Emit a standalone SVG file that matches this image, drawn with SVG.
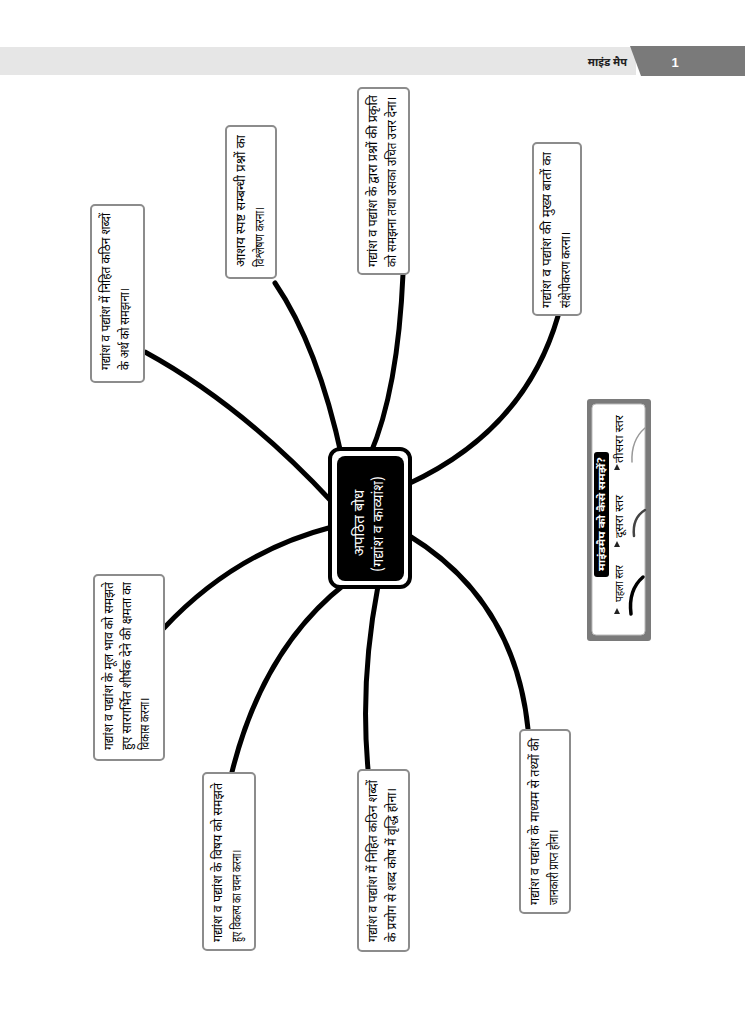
<svg xmlns="http://www.w3.org/2000/svg" width="745" height="1024" viewBox="0 0 745 1024">
<style>
.box{fill:#fff;stroke:#8c8c8c;stroke-width:2}
.t{font-family:"Noto Sans Devanagari","Noto Sans","Lohit Devanagari",sans-serif;font-size:13px;fill:#000}
.c{fill:none;stroke:#000;stroke-width:5;stroke-linecap:round}
.w{font-family:"Noto Sans Devanagari","Noto Sans",sans-serif;fill:#fff}
</style>
<rect width="745" height="1024" fill="#fff"/>
<g id="header">
<rect x="0" y="47" width="636" height="28" fill="#e6e6e6"/>
<polygon points="630,46 745,46 745,76 641,76" fill="#7a7a7a"/>
<text x="627" y="66" text-anchor="end" font-family="Noto Sans Devanagari,Noto Sans,sans-serif" font-size="11" font-weight="bold" fill="#222">माइंड मैप</text>
<text x="675" y="67" text-anchor="middle" font-family="Liberation Sans,sans-serif" font-size="13" font-weight="bold" fill="#fff">1</text>
</g>
<g id="connectors">
<path class="c" d="M145,352 Q242,405 332,502"/>
<path class="c" d="M275,283 Q318,346 342,458"/>
<path class="c" d="M403,274 Q398,390 370,455"/>
<path class="c" d="M558,316 Q525,430 408,484"/>
<path class="c" d="M164,628 Q235,552 332,527"/>
<path class="c" d="M232,772 Q263,648 345,584"/>
<path class="c" d="M368,769 Q360,680 378,586"/>
<path class="c" d="M528,729 Q515,600 408,535"/>
</g>
<g id="center">
<rect x="330" y="449" width="80" height="138" rx="10" fill="#fff" stroke="#000" stroke-width="4"/>
<rect x="337" y="456" width="67" height="125" rx="8" fill="#000"/>
<text class="w" font-size="15" text-anchor="middle" transform="translate(364,523) rotate(-90)">अपठित बोध</text>
<text class="w" font-size="14" text-anchor="middle" transform="translate(383,524) rotate(-90)">(गद्यांश व काव्यांश)</text>
</g>
<g id="n1">
<rect class="box" x="91" y="205" width="53" height="177" rx="4"/>
<text class="t" transform="translate(110,370) rotate(-90)" textLength="157" lengthAdjust="spacingAndGlyphs">गद्यांश व पद्यांश में निहित कठिन शब्दों</text>
<text class="t" transform="translate(129,370) rotate(-90)" textLength="82" lengthAdjust="spacingAndGlyphs">के अर्थ को समझना।</text>
</g>
<g id="n2">
<rect class="box" x="226" y="126" width="50" height="152" rx="4"/>
<text class="t" transform="translate(245,267) rotate(-90)" textLength="132" lengthAdjust="spacingAndGlyphs">आशय स्पष्ट सम्बन्धी प्रश्नों का</text>
<text class="t" transform="translate(264,267) rotate(-90)" textLength="60" lengthAdjust="spacingAndGlyphs">विश्लेषण करना।</text>
</g>
<g id="n3">
<rect class="box" x="358" y="88" width="51" height="186" rx="4"/>
<text class="t" transform="translate(377,267) rotate(-90)" textLength="172" lengthAdjust="spacingAndGlyphs">गद्यांश व पद्यांश के द्वारा प्रश्नों की प्रकृति</text>
<text class="t" transform="translate(396,267) rotate(-90)" textLength="170" lengthAdjust="spacingAndGlyphs">को समझना तथा उसका उचित उत्तर देना।</text>
</g>
<g id="n4">
<rect class="box" x="533" y="143" width="48" height="172" rx="4"/>
<text class="t" transform="translate(551,308) rotate(-90)" textLength="156" lengthAdjust="spacingAndGlyphs">गद्यांश व पद्यांश की मुख्य बातों का</text>
<text class="t" transform="translate(570,308) rotate(-90)" textLength="76" lengthAdjust="spacingAndGlyphs">संक्षेपीकरण करना।</text>
</g>
<g id="n5">
<rect class="box" x="94" y="575" width="70" height="185" rx="4"/>
<text class="t" transform="translate(113,750) rotate(-90)" textLength="168" lengthAdjust="spacingAndGlyphs">गद्यांश व पद्यांश के मूल भाव को समझते</text>
<text class="t" transform="translate(131,750) rotate(-90)" textLength="168" lengthAdjust="spacingAndGlyphs">हुए सारगर्भित शीर्षक देने की क्षमता का</text>
<text class="t" transform="translate(149,750) rotate(-90)" textLength="52" lengthAdjust="spacingAndGlyphs">विकास करना।</text>
</g>
<g id="n6">
<rect class="box" x="203" y="773" width="52" height="177" rx="4"/>
<text class="t" transform="translate(222,942) rotate(-90)" textLength="159" lengthAdjust="spacingAndGlyphs">गद्यांश व पद्यांश के विषय को समझते</text>
<text class="t" transform="translate(241,942) rotate(-90)" textLength="92" lengthAdjust="spacingAndGlyphs">हुए विकल्प का चयन करना।</text>
</g>
<g id="n7">
<rect class="box" x="358" y="770" width="51" height="181" rx="4"/>
<text class="t" transform="translate(377,942) rotate(-90)" textLength="162" lengthAdjust="spacingAndGlyphs">गद्यांश व पद्यांश में निहित कठिन शब्दों</text>
<text class="t" transform="translate(396,942) rotate(-90)" textLength="154" lengthAdjust="spacingAndGlyphs">के प्रयोग से शब्द कोष में वृद्धि होना।</text>
</g>
<g id="n8">
<rect class="box" x="520" y="730" width="50" height="183" rx="4"/>
<text class="t" transform="translate(539,905) rotate(-90)" textLength="167" lengthAdjust="spacingAndGlyphs">गद्यांश व पद्यांश के माध्यम से तथ्यों की</text>
<text class="t" transform="translate(558,905) rotate(-90)" textLength="75" lengthAdjust="spacingAndGlyphs">जानकारी प्राप्त होना।</text>
</g>
<g id="legend">
<rect x="587" y="399" width="64" height="242" rx="3" fill="#7a7a7a"/>
<rect x="592" y="404" width="53" height="231" rx="4" fill="#fff" stroke="#bbb" stroke-width="1"/>
<rect x="594" y="452" width="15" height="125" rx="3" fill="#000"/>
<text class="w" font-size="10" font-weight="bold" transform="translate(605,571) rotate(-90)" textLength="114" lengthAdjust="spacingAndGlyphs">माइंडमैप को कैसे समझें?</text>
<polygon points="614,614 620,614 617,608" fill="#222"/>
<polygon points="614,547 620,547 617,541" fill="#222"/>
<polygon points="614,470 620,470 617,464" fill="#222"/>
<text class="t" style="font-size:10.5px" transform="translate(623,602) rotate(-90)" textLength="37" lengthAdjust="spacingAndGlyphs">पहला स्तर</text>
<text class="t" style="font-size:10.5px" transform="translate(623,538) rotate(-90)" textLength="43" lengthAdjust="spacingAndGlyphs">दूसरा स्तर</text>
<text class="t" style="font-size:10.5px" transform="translate(623,463) rotate(-90)" textLength="48" lengthAdjust="spacingAndGlyphs">तीसरा स्तर</text>
<path d="M631,614 Q628,590 643,577" fill="none" stroke="#000" stroke-width="3.5" stroke-linecap="round"/>
<path d="M634,536 Q632,518 645,510" fill="none" stroke="#444" stroke-width="2.5" stroke-linecap="round"/>
<path d="M632,462 Q631,440 645,428" fill="none" stroke="#999" stroke-width="1.5" stroke-linecap="round"/>
</g>
</svg>
